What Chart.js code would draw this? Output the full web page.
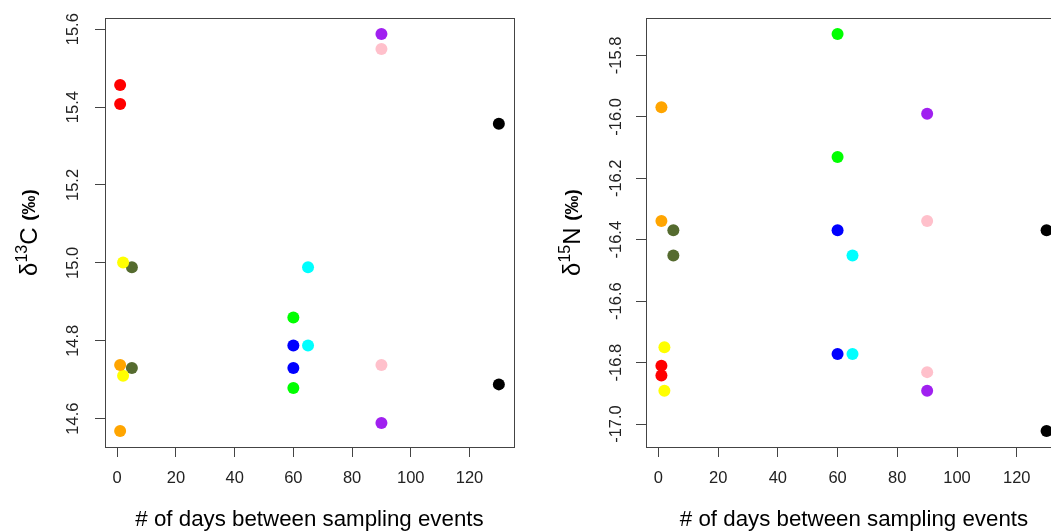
<!DOCTYPE html>
<html>
<head>
<meta charset="utf-8">
<script src="https://cdn.jsdelivr.net/npm/chart.js@4.4.1/dist/chart.umd.min.js"></script>
<style>
    html, body { margin: 0; padding: 0; background: #fff; overflow: hidden; }
    body { width: 1051px; height: 532px; position: relative; }
    .panel { position: absolute; top: 0; }
    #carbon-panel { left: 0; }
    #nitrogen-panel { left: 530px; }
</style>
</head>
<body>
<div class="panel" id="carbon-panel"><canvas id="carbon" width="530" height="532"></canvas></div>
<div class="panel" id="nitrogen-panel"><canvas id="nitrogen" width="540" height="532"></canvas></div>
<script>
// one colour per sampling pair, two samples each
const pairColors = ['#FF0000', '#FFA500', '#FFFF00', '#556B2F', '#00FF00', '#0000FF', '#00FFFF', '#FFC0CB', '#A020F0', '#000000'];
const daysBetween = [1, 1, 2, 5, 60, 60, 65, 90, 90, 130];

const d13C = [
    [15.457, 15.408],
    [14.738, 14.568],
    [15.001, 14.710],
    [14.989, 14.730],
    [14.860, 14.679],
    [14.788, 14.730],
    [14.989, 14.788],
    [15.549, 14.738],
    [15.588, 14.589],
    [15.357, 14.688]
];

const d15N = [
    [-16.810, -16.842],
    [-15.969, -16.339],
    [-16.750, -16.892],
    [-16.369, -16.451],
    [-15.730, -16.131],
    [-16.369, -16.772],
    [-16.451, -16.772],
    [-16.339, -16.831],
    [-15.990, -16.892],
    [-16.369, -17.023]
];

const dayTicks = [0, 20, 40, 60, 80, 100, 120];
const carbonTicks = [14.6, 14.8, 15.0, 15.2, 15.4, 15.6];
const nitrogenTicks = [-17.0, -16.8, -16.6, -16.4, -16.2, -16.0, -15.8];

const FONT = "'Liberation Sans', Arial, sans-serif";
const AXIS_COLOR = '#444';

// R style axis limits: data range widened by 4% at each end
function paddedRange(values) {
    const lo = Math.min(...values);
    const hi = Math.max(...values);
    const pad = (hi - lo) * 0.04;
    return [lo - pad, hi + pad];
}

// box round the plotting region
const frameBox = {
    id: 'frameBox',
    beforeDatasetsDraw(chart) {
        const { ctx, chartArea } = chart;
        const left = Math.round(chartArea.left) + 0.5;
        const top = Math.round(chartArea.top) + 0.5;
        const right = Math.round(chartArea.right) + 0.5;
        const bottom = Math.round(chartArea.bottom) + 0.5;
        ctx.save();
        ctx.strokeStyle = AXIS_COLOR;
        ctx.lineWidth = 1;
        ctx.strokeRect(left, top, right - left, bottom - top);
        ctx.restore();
    }
};

// y axis caption with a superscript mass number, e.g. δ13C (‰)
const isotopeCaption = {
    id: 'isotopeCaption',
    afterDraw(chart, args, opts) {
        const { ctx, chartArea } = chart;
        const cy = (chartArea.top + chartArea.bottom) / 2;
        const main = opts.size;
        const parts = [
            { text: 'δ', font: `${main}px ${FONT}`, rise: 0 },
            { text: opts.mass, font: `${Math.round(main * 0.68)}px ${FONT}`, rise: main * 0.42 },
            { text: opts.element, font: `${main}px ${FONT}`, rise: 0 },
            { text: ' ', font: `${main}px ${FONT}`, rise: 0 },
            { text: '(‰)', font: `bold ${Math.round(main * 0.78)}px ${FONT}`, rise: main * 0.05 }
        ];
        ctx.save();
        let total = 0;
        for (const p of parts) {
            ctx.font = p.font;
            p.width = ctx.measureText(p.text).width;
            total += p.width;
        }
        ctx.translate(opts.x, cy);
        ctx.rotate(-Math.PI / 2);
        ctx.fillStyle = '#000';
        ctx.textBaseline = 'alphabetic';
        ctx.textAlign = 'left';
        let pos = -total / 2;
        const baseline = main * 0.36;
        for (const p of parts) {
            ctx.font = p.font;
            ctx.fillText(p.text, pos, baseline - p.rise);
            pos += p.width;
        }
        ctx.restore();
    }
};

function buildDatasets(values) {
    return pairColors.map((color, i) => ({
        data: values[i].map(v => ({ x: daysBetween[i], y: v })),
        backgroundColor: color,
        borderWidth: 0,
        pointRadius: 6,
        pointHoverRadius: 6
    }));
}

function renderIsotopeChart(canvasId, values, yTicks, setup) {
    const [xMin, xMax] = paddedRange(daysBetween);
    const [yMin, yMax] = paddedRange(values.flat());

    return new Chart(document.getElementById(canvasId), {
        type: 'scatter',
        data: { datasets: buildDatasets(values) },
        plugins: [frameBox, isotopeCaption],
        options: {
            responsive: false,
            animation: false,
            events: [],
            layout: { padding: { top: 18, right: setup.rightPad, bottom: 0, left: 0 } },
            plugins: {
                legend: { display: false },
                tooltip: { enabled: false },
                isotopeCaption: { x: setup.captionX, size: 24, mass: setup.mass, element: setup.element }
            },
            scales: {
                x: {
                    type: 'linear',
                    min: xMin,
                    max: xMax,
                    afterBuildTicks: scale => { scale.ticks = dayTicks.map(v => ({ value: v })); },
                    afterFit: scale => { scale.height = 85; },
                    grid: { drawOnChartArea: false, drawTicks: true, tickLength: 10, color: AXIS_COLOR },
                    border: { display: false },
                    ticks: {
                        color: '#222',
                        font: { family: FONT, size: 16.5 },
                        padding: 12,
                        maxRotation: 0,
                        autoSkip: false
                    },
                    title: {
                        display: true,
                        text: '# of days between sampling events',
                        color: '#000',
                        font: { family: FONT, size: 22.3 },
                        padding: { top: 0, bottom: -1 }
                    }
                },
                y: {
                    type: 'linear',
                    min: yMin,
                    max: yMax,
                    afterBuildTicks: scale => { scale.ticks = yTicks.map(v => ({ value: v })); },
                    afterFit: scale => { scale.width = setup.axisWidth; },
                    grid: { drawOnChartArea: false, drawTicks: true, tickLength: 10, color: AXIS_COLOR },
                    border: { display: false },
                    ticks: {
                        color: '#222',
                        font: { family: FONT, size: 16.5 },
                        minRotation: 90,
                        maxRotation: 90,
                        crossAlign: 'center',
                        padding: setup.labelPad,
                        autoSkip: false,
                        callback: v => v.toFixed(1)
                    }
                }
            }
        }
    });
}

renderIsotopeChart('carbon', d13C, carbonTicks, {
    axisWidth: 105, rightPad: 16, labelPad: 5, captionX: 28, mass: '13', element: 'C'
});

renderIsotopeChart('nitrogen', d15N, nitrogenTicks, {
    axisWidth: 116, rightPad: 8, labelPad: 0.5, captionX: 41, mass: '15', element: 'N'
});
</script>
</body>
</html>
